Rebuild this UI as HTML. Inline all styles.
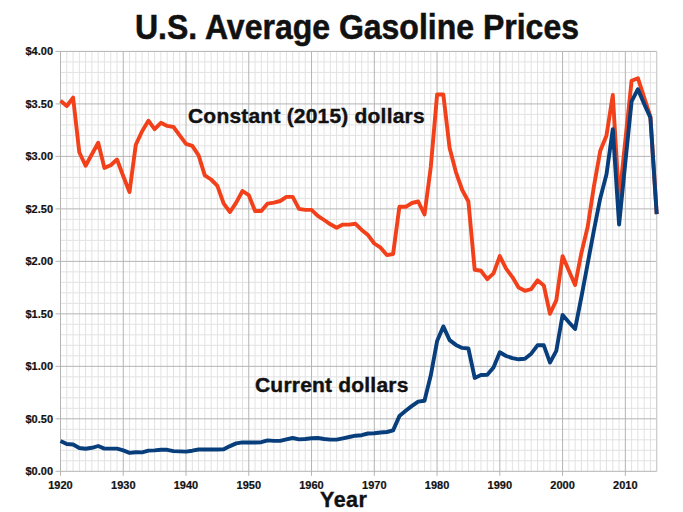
<!DOCTYPE html>
<html><head><meta charset="utf-8"><style>
html,body{margin:0;padding:0;background:#fff;}
body{width:683px;height:512px;overflow:hidden;}
svg{display:block;}
text{font-family:"Liberation Sans",sans-serif;font-weight:bold;fill:#111;}
.ax{font-size:11px;stroke:#111;stroke-width:0.2px;}
.lbl{font-size:21px;letter-spacing:0.2px;stroke:#111;stroke-width:0.4px;}
.title{font-size:32px;stroke:#111;stroke-width:0.5px;}
</style></head><body>
<svg width="683" height="512" viewBox="0 0 683 512">
<rect width="683" height="512" fill="#fff"/>
<path d="M66.78,51.42V471.30M73.05,51.42V471.30M79.33,51.42V471.30M85.60,51.42V471.30M91.88,51.42V471.30M98.16,51.42V471.30M104.43,51.42V471.30M110.71,51.42V471.30M116.98,51.42V471.30M129.54,51.42V471.30M135.81,51.42V471.30M142.09,51.42V471.30M148.36,51.42V471.30M154.64,51.42V471.30M160.92,51.42V471.30M167.19,51.42V471.30M173.47,51.42V471.30M179.74,51.42V471.30M192.30,51.42V471.30M198.57,51.42V471.30M204.85,51.42V471.30M211.12,51.42V471.30M217.40,51.42V471.30M223.68,51.42V471.30M229.95,51.42V471.30M236.23,51.42V471.30M242.50,51.42V471.30M255.06,51.42V471.30M261.33,51.42V471.30M267.61,51.42V471.30M273.88,51.42V471.30M280.16,51.42V471.30M286.44,51.42V471.30M292.71,51.42V471.30M298.99,51.42V471.30M305.26,51.42V471.30M317.82,51.42V471.30M324.09,51.42V471.30M330.37,51.42V471.30M336.64,51.42V471.30M342.92,51.42V471.30M349.20,51.42V471.30M355.47,51.42V471.30M361.75,51.42V471.30M368.02,51.42V471.30M380.58,51.42V471.30M386.85,51.42V471.30M393.13,51.42V471.30M399.40,51.42V471.30M405.68,51.42V471.30M411.96,51.42V471.30M418.23,51.42V471.30M424.51,51.42V471.30M430.78,51.42V471.30M443.34,51.42V471.30M449.61,51.42V471.30M455.89,51.42V471.30M462.16,51.42V471.30M468.44,51.42V471.30M474.72,51.42V471.30M480.99,51.42V471.30M487.27,51.42V471.30M493.54,51.42V471.30M506.10,51.42V471.30M512.37,51.42V471.30M518.65,51.42V471.30M524.92,51.42V471.30M531.20,51.42V471.30M537.48,51.42V471.30M543.75,51.42V471.30M550.03,51.42V471.30M556.30,51.42V471.30M568.86,51.42V471.30M575.13,51.42V471.30M581.41,51.42V471.30M587.68,51.42V471.30M593.96,51.42V471.30M600.24,51.42V471.30M606.51,51.42V471.30M612.79,51.42V471.30M619.06,51.42V471.30M631.62,51.42V471.30M637.89,51.42V471.30M644.17,51.42V471.30M650.44,51.42V471.30M656.72,51.42V471.30M60.50,460.80H656.72M60.50,450.31H656.72M60.50,439.81H656.72M60.50,429.31H656.72M60.50,408.32H656.72M60.50,397.82H656.72M60.50,387.32H656.72M60.50,376.83H656.72M60.50,355.83H656.72M60.50,345.34H656.72M60.50,334.84H656.72M60.50,324.34H656.72M60.50,303.35H656.72M60.50,292.85H656.72M60.50,282.35H656.72M60.50,271.86H656.72M60.50,250.86H656.72M60.50,240.37H656.72M60.50,229.87H656.72M60.50,219.37H656.72M60.50,198.38H656.72M60.50,187.88H656.72M60.50,177.38H656.72M60.50,166.89H656.72M60.50,145.89H656.72M60.50,135.40H656.72M60.50,124.90H656.72M60.50,114.40H656.72M60.50,93.41H656.72M60.50,82.91H656.72M60.50,72.41H656.72M60.50,61.92H656.72" stroke="#e2e2e2" stroke-width="1" fill="none"/>
<path d="M60.50,51.42V475.80M123.26,51.42V475.80M186.02,51.42V475.80M248.78,51.42V475.80M311.54,51.42V475.80M374.30,51.42V475.80M437.06,51.42V475.80M499.82,51.42V475.80M562.58,51.42V475.80M625.34,51.42V475.80M55.50,471.30H656.72M55.50,418.81H656.72M55.50,366.33H656.72M55.50,313.85H656.72M55.50,261.36H656.72M55.50,208.88H656.72M55.50,156.39H656.72M55.50,103.91H656.72M55.50,51.42H656.72" stroke="#b4b4b4" stroke-width="1" fill="none"/>
<path d="M656.72,51.42V471.30" stroke="#c8c8c8" stroke-width="1" fill="none"/>
<text x="53" y="475.3" text-anchor="end" class="ax">$0.00</text><text x="53" y="422.8" text-anchor="end" class="ax">$0.50</text><text x="53" y="370.3" text-anchor="end" class="ax">$1.00</text><text x="53" y="317.8" text-anchor="end" class="ax">$1.50</text><text x="53" y="265.4" text-anchor="end" class="ax">$2.00</text><text x="53" y="212.9" text-anchor="end" class="ax">$2.50</text><text x="53" y="160.4" text-anchor="end" class="ax">$3.00</text><text x="53" y="107.9" text-anchor="end" class="ax">$3.50</text><text x="53" y="55.4" text-anchor="end" class="ax">$4.00</text>
<text x="60.5" y="489" text-anchor="middle" class="ax">1920</text><text x="123.3" y="489" text-anchor="middle" class="ax">1930</text><text x="186.0" y="489" text-anchor="middle" class="ax">1940</text><text x="248.8" y="489" text-anchor="middle" class="ax">1950</text><text x="311.5" y="489" text-anchor="middle" class="ax">1960</text><text x="374.3" y="489" text-anchor="middle" class="ax">1970</text><text x="437.1" y="489" text-anchor="middle" class="ax">1980</text><text x="499.8" y="489" text-anchor="middle" class="ax">1990</text><text x="562.6" y="489" text-anchor="middle" class="ax">2000</text><text x="625.3" y="489" text-anchor="middle" class="ax">2010</text>
<text x="357" y="0" transform="translate(0,38.5) scale(1,1.078)" text-anchor="middle" class="title">U.S. Average Gasoline Prices</text>
<text x="188" y="122.8" class="lbl">Constant (2015) dollars</text>
<text x="255" y="392.2" class="lbl">Current dollars</text>
<text x="320" y="506.6" class="lbl" style="font-size:21.5px;letter-spacing:0.5px">Year</text>
<path d="M60.5,100.8 L66.8,106.0 L73.1,97.6 L79.3,152.2 L85.6,165.8 L91.9,154.3 L98.2,142.7 L104.4,167.9 L110.7,165.3 L117.0,159.5 L123.3,176.3 L129.5,192.1 L135.8,144.8 L142.1,131.2 L148.4,120.7 L154.6,129.1 L160.9,122.8 L167.2,125.9 L173.5,127.0 L179.7,135.4 L186.0,143.8 L192.3,145.9 L198.6,155.3 L204.8,175.3 L211.1,179.5 L217.4,185.8 L223.7,203.6 L230.0,212.0 L236.2,202.6 L242.5,191.0 L248.8,195.2 L255.1,211.0 L261.3,211.0 L267.6,203.6 L273.9,202.6 L280.2,201.0 L286.4,196.9 L292.7,196.9 L299.0,208.9 L305.3,209.9 L311.5,209.9 L317.8,215.8 L324.1,220.0 L330.4,224.3 L336.6,227.8 L342.9,224.6 L349.2,224.6 L355.5,223.8 L361.7,229.9 L368.0,235.1 L374.3,243.5 L380.6,247.7 L386.9,255.1 L393.1,254.0 L399.4,206.8 L405.7,206.8 L412.0,203.0 L418.2,201.5 L424.5,214.5 L430.8,166.9 L437.1,94.5 L443.3,94.5 L449.6,148.0 L455.9,172.1 L462.2,190.0 L468.4,201.5 L474.7,269.8 L481.0,270.8 L487.3,279.2 L493.5,273.4 L499.8,256.1 L506.1,268.7 L512.4,277.1 L518.6,287.6 L524.9,290.8 L531.2,289.2 L537.5,280.3 L543.8,285.5 L550.0,313.8 L556.3,300.2 L562.6,256.1 L568.9,270.8 L575.1,285.0 L581.4,253.0 L587.7,226.7 L594.0,185.8 L600.2,151.1 L606.5,135.4 L612.8,95.0 L619.1,200.5 L625.3,140.6 L631.6,80.8 L637.9,78.2 L644.2,97.6 L650.4,116.5 L656.7,214.1" stroke="#f2401a" stroke-width="3.9" fill="none" stroke-linejoin="round"/>
<path d="M60.5,440.9 L66.8,444.0 L73.1,444.5 L79.3,448.0 L85.6,448.8 L91.9,447.8 L98.2,446.0 L104.4,448.6 L110.7,448.6 L117.0,448.6 L123.3,450.4 L129.5,452.9 L135.8,452.2 L142.1,452.4 L148.4,450.6 L154.6,450.4 L160.9,449.8 L167.2,449.8 L173.5,451.1 L179.7,451.4 L186.0,451.6 L192.3,450.7 L198.6,449.5 L204.8,449.5 L211.1,449.5 L217.4,449.5 L223.7,449.3 L230.0,446.1 L236.2,443.4 L242.5,442.4 L248.8,442.5 L255.1,442.5 L261.3,442.2 L267.6,440.4 L273.9,440.9 L280.2,440.9 L286.4,439.4 L292.7,438.0 L299.0,439.4 L305.3,439.0 L311.5,438.3 L317.8,438.0 L324.1,439.0 L330.4,439.6 L336.6,439.6 L342.9,438.3 L349.2,437.0 L355.5,435.7 L361.7,435.2 L368.0,433.5 L374.3,433.3 L380.6,432.5 L386.9,432.0 L393.1,430.4 L399.4,416.1 L405.7,410.8 L412.0,405.9 L418.2,401.6 L424.5,400.7 L430.8,375.3 L437.1,341.1 L443.3,326.4 L449.6,340.1 L455.9,344.9 L462.2,347.9 L468.4,348.5 L474.7,377.9 L481.0,375.0 L487.3,374.7 L493.5,367.4 L499.8,352.3 L506.1,356.0 L512.4,358.1 L518.6,359.3 L524.9,358.7 L531.2,353.7 L537.5,345.3 L543.8,345.3 L550.0,362.6 L556.3,350.8 L562.6,314.9 L568.9,322.2 L575.1,329.0 L581.4,297.0 L587.7,263.5 L594.0,229.9 L600.2,198.4 L606.5,174.2 L612.8,129.1 L619.1,224.6 L625.3,162.7 L631.6,101.3 L637.9,89.2 L644.2,103.9 L650.4,117.6 L656.7,214.1" stroke="#083e7c" stroke-width="3.9" fill="none" stroke-linejoin="round"/>
</svg>
</body></html>
